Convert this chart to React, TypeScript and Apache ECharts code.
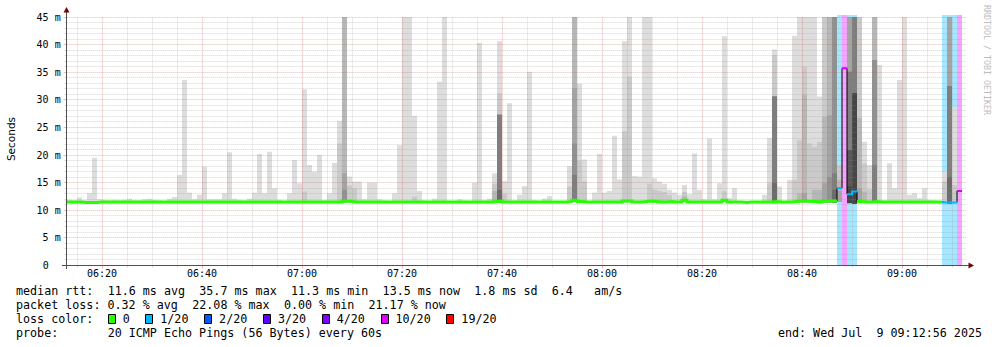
import React, { useEffect, useRef } from 'react';
import * as echarts from 'echarts';

// ---------------- data ----------------
const graphStart = '06:12:56';
const graphEnd = '09:12:56';
const firstBinStart = '06:13:00';
const binSeconds = 60;

// median rtt per 60 s step (ms)
const medianMs = [
  11.5, 11.5, 11.5, 11.4, 11.4, 11.4, 11.5, 11.5, 11.5, 11.5,
  11.5, 11.5, 11.5, 11.5, 11.5, 11.5, 11.5, 11.5, 11.5, 11.5,
  11.5, 11.5, 11.5, 11.5, 11.5, 11.5, 11.5, 11.5, 11.5, 11.5,
  11.5, 11.5, 11.5, 11.5, 11.5, 11.5, 11.5, 11.5, 11.5, 11.5,
  11.5, 11.5, 11.5, 11.5, 11.5, 11.5, 11.5, 11.5, 11.5, 11.5,
  11.5, 11.5, 11.5, 11.5, 11.5, 11.7, 11.6, 11.5, 11.5, 11.5,
  11.5, 11.5, 11.5, 11.5, 11.5, 11.5, 11.5, 11.5, 11.5, 11.5,
  11.5, 11.5, 11.5, 11.5, 11.5, 11.5, 11.5, 11.5, 11.5, 11.5,
  11.5, 11.5, 11.5, 11.5, 11.5, 11.6, 11.7, 11.5, 11.5, 11.5,
  11.5, 11.5, 11.5, 11.5, 11.5, 11.5, 11.5, 11.5, 11.5, 11.5,
  11.6, 11.8, 11.6, 11.5, 11.5, 11.5, 11.5, 11.5, 11.5, 11.5,
  11.5, 11.7, 11.7, 11.5, 11.5, 11.6, 11.7, 11.6, 11.5, 11.5,
  11.6, 11.5, 11.5, 11.8, 11.5, 11.5, 11.5, 11.5, 11.5, 11.5,
  11.5, 11.8, 11.5, 11.5, 11.5, 11.4, 11.5, 11.5, 11.5, 11.5,
  11.5, 11.6, 11.5, 11.5, 11.5, 11.6, 11.7, 11.7, 11.6, 11.6,
  11.5, 11.7, 11.7, 11.7, 14.0, 35.7, 12.9, 13.4, 11.6, 11.5,
  11.5, 11.6, 11.5, 11.5, 11.5, 11.5, 11.5, 11.5, 11.5, 11.5,
  11.5, 11.5, 11.5, 11.5, 11.5, 11.4, 11.4, 11.4, 13.5,
];

// slowest ping per step (top of the lightest smoke band, ms)
const maxMs: (number | null)[] = [
  11.9, 11.8, 12.3, 11.8, 13.1, 19.5, 12.0, 11.9, 11.8, 11.9,
  11.8, 11.9, 12.1, 11.8, 11.8, 12.0, 12.1, 11.9, 11.8, 11.7,
  12.1, 12.4, 16.4, 33.6, 13.2, 12.0, 12.8, 17.9, 12.0, 12.0,
  12.0, 13.1, 20.5, 12.1, 11.9, 11.8, 12.1, 13.2, 20.2, 13.1,
  20.6, 14.0, 11.9, 11.7, 13.1, 19.1, 14.9, 31.9, 18.2, 17.0,
  20.0, 11.8, 13.1, 18.6, 26.2, 45, 16.1, 15.2, 15.2, 12.0,
  15.0, 15.0, 12.0, 11.8, 11.7, 13.1, 21.8, 45, 45, 27.1,
  13.5, 11.8, 11.6, 12.1, 33.3, 45, 11.7, 11.6, 12.0, 11.8,
  11.7, 15.0, 40.3, 11.8, 12.1, 16.7, 40.6, 15.3, 29.4, 11.8,
  12.8, 14.4, 35.1, 11.8, 11.7, 12.1, 12.6, 11.6, 11.6, 11.6,
  18.0, 45, 32.9, 19.2, 11.7, 13.2, 20.2, 13.2, 13.5, 23.5,
  15.6, 40.6, 45, 16.2, 16.1, 45, 45, 15.8, 15.2, 14.8,
  13.7, 13.2, 12.8, 14.6, 12.9, 20.3, 13.7, 12.0, 23.0, 12.0,
  14.9, 41.5, 12.2, 14.0, 11.6, 11.5, 11.6, 11.6, 11.6, 12.8,
  23.1, 39.1, 14.3, 11.6, 15.5, 41.6, 45, 45, 45, 45,
  30.6, 45, 45, 45, 18.2, null, 45, 45, 45, 22.4,
  18.2, 45, 36.3, 11.8, 18.5, 14.0, 33.6, 45, 12.8, 13.1,
  12.2, 14.0, 11.9, 11.8, 11.6, 17.0, 45, 28.7, null,
];

// fastest ping per step (bottom of the smoke, ms)
const minMs = [
  11.3, 11.3, 11.3, 11.2, 11.2, 11.2, 11.3, 11.3, 11.3, 11.3,
  11.3, 11.3, 11.3, 11.3, 11.3, 11.3, 11.3, 11.3, 11.3, 11.3,
  11.3, 11.3, 11.3, 11.3, 11.3, 11.3, 11.3, 11.3, 11.3, 11.3,
  11.3, 11.3, 11.3, 11.3, 11.3, 11.3, 11.3, 11.3, 11.3, 11.3,
  11.3, 11.3, 11.3, 11.3, 11.3, 11.3, 11.3, 11.3, 11.3, 11.3,
  11.3, 11.3, 11.3, 11.3, 11.3, 11.4, 11.3, 11.3, 11.3, 11.3,
  11.3, 11.3, 11.3, 11.3, 11.3, 11.3, 11.3, 11.3, 11.3, 11.3,
  11.3, 11.3, 11.3, 11.3, 11.3, 11.3, 11.3, 11.3, 11.3, 11.3,
  11.3, 11.3, 11.3, 11.3, 11.3, 11.3, 11.4, 11.3, 11.3, 11.3,
  11.3, 11.3, 11.3, 11.3, 11.3, 11.3, 11.3, 11.3, 11.3, 11.3,
  11.3, 11.5, 11.3, 11.3, 11.3, 11.3, 11.3, 11.3, 11.3, 11.3,
  11.3, 11.4, 11.4, 11.3, 11.3, 11.3, 11.4, 11.3, 11.3, 11.3,
  11.3, 11.3, 11.3, 11.5, 11.3, 11.3, 11.3, 11.3, 11.3, 11.3,
  11.3, 11.5, 11.3, 11.3, 11.3, 11.2, 11.3, 11.3, 11.3, 11.3,
  11.3, 11.3, 11.3, 11.3, 11.3, 11.3, 11.4, 11.4, 11.3, 11.3,
  11.3, 11.4, 11.4, 11.4, 11.5, 35.7, 11.3, 11.2, 11.3, 11.3,
  11.3, 11.3, 11.3, 11.3, 11.3, 11.3, 11.3, 11.3, 11.3, 11.3,
  11.3, 11.3, 11.3, 11.3, 11.3, 11.2, 11.2, 11.2, 13.5,
];

// tops of the darker inner smoke bands (2nd slowest ping, 3rd slowest, ...), by step index
const innerBandTops: Record<number, number[]> = {
  47: [13.4],
  54: [22.1],
  55: [45, 45, 16.7, 13.7],
  56: [14.5],
  57: [14.0],
  69: [12.5],
  85: [14.8, 13.5],
  86: [31.2, 27.3, 27.3, 27.3, 27.3, 13.7],
  87: [13.0],
  100: [14.3],
  101: [45, 45, 32.1, 22.1, 16.4],
  102: [19.0],
  103: [15.2],
  111: [24.3],
  112: [34.2],
  116: [14.8],
  117: [13.7],
  118: [13.5],
  119: [13.3],
  120: [12.8],
  123: [13.3, 12.5],
  131: [13.5],
  140: [14.9],
  141: [38.1, 30.6, 30.6, 30.6, 30.6, 14.9],
  145: [15.5],
  146: [22.7, 13.1],
  147: [36.0, 30.9, 13.1],
  148: [22.1],
  149: [21.5, 13.7],
  150: [22.4, 13.7],
  151: [45, 27.0, 14.9],
  152: [45, 45, 27.2, 16.0],
  153: [45, 45, 45, 45, 16.7, 13.7],
  154: [18.2, 15.5, 13.5],
  156: [45, 45, 45, 35.1, 35.1, 20.9, 20.9, 14.3],
  157: [45, 45, 45, 45, 45, 31.2, 31.2, 31.2],
  158: [45, 26.7, 14.0],
  159: [18.5, 13.4],
  160: [13.8],
  161: [45, 45, 37.2, 37.2, 18.2],
  175: [15.2],
  176: [45, 45, 45, 32.5, 32.5, 16.0],
  177: [14.6],
};

// lost pings (of 20) per step index
const lostPings: Record<number, number> = {
  154: 1, 155: 10, 156: 1, 157: 1, 175: 1, 176: 1, 177: 1, 178: 10,
};

const timeTickLabels = ['06:20', '06:40', '07:00', '07:20', '07:40', '08:00', '08:20', '08:40', '09:00'];
const yMaxMs = 45;
const yStepMs = 5;

const lossLegendLabels = ['0', '1/20', '2/20', '3/20', '4/20', '10/20', '19/20'];
const lossLegendPings = [0, 1, 2, 3, 4, 10, 19];
const lossColors = ['#26ff00', '#00b8ff', '#0059ff', '#5e00ff', '#7e00ff', '#dd00ff', '#ff0000'];

const statsMedian = 'median rtt:  11.6 ms avg  35.7 ms max  11.3 ms min  13.5 ms now  1.8 ms sd  6.4   am/s';
const statsLoss = 'packet loss: 0.32 % avg  22.08 % max  0.00 % min  21.17 % now';
const lossTitle = 'loss color:';
const probeText = 'probe:       20 ICMP Echo Pings (56 Bytes) every 60s';
const endText = 'end: Wed Jul  9 09:12:56 2025';
const unitLabel = 'Seconds';
const watermark = 'RRDTOOL / TOBI OETIKER';

// ---------------- helpers ----------------
const toSec = (s: string) => {
  const [h, m, sec = '0'] = s.split(':');
  return Number(h) * 3600 + Number(m) * 60 + Number(sec);
};
const pad2 = (n: number) => String(n).padStart(2, '0');
const fmtHM = (sec: number) => `${pad2(Math.floor(sec / 3600))}:${pad2(Math.floor((sec % 3600) / 60))}`;

const startSec = toSec(graphStart);
const endSec = toSec(graphEnd);
const bin0 = toSec(firstBinStart);
const binX0 = (k: number) => bin0 + k * binSeconds;

const smokeGray = (level: number) => {
  const g = Math.floor((190 / 10) * (10 - level)) + 50;
  const h = g.toString(16).padStart(2, '0');
  return `#${h}${h}${h}`;
};
const lossIndex = (lost: number) => {
  for (let i = 0; i < lossLegendPings.length; i++) if (lost <= lossLegendPings[i]) return i;
  return lossLegendPings.length - 1;
};
const tint = (hex: string, a: number) => {
  const n = parseInt(hex.slice(1), 16);
  const c = [(n >> 16) & 255, (n >> 8) & 255, n & 255].map((v) => Math.round(255 - a * (255 - v)));
  return `rgb(${c[0]},${c[1]},${c[2]})`;
};
const snap = (v: number) => Math.floor(v) + 0.5;

const MONO = '"DejaVu Sans Mono"';
const legendFontSize = 11.7;
const monoAdv = 7.05;
const legendX = 16;

const monoLine = (str: string, y: number) => {
  const out: any[] = [];
  const re = /\S+(?: \S+)*/g;
  let m: RegExpExecArray | null;
  while ((m = re.exec(str))) {
    out.push({
      type: 'text',
      x: legendX + m.index * monoAdv,
      y,
      silent: true,
      style: { text: m[0], font: `${legendFontSize}px ${MONO}`, fill: '#000', textVerticalAlign: 'middle' },
    });
  }
  return out;
};

const stepPairs = (pred: (k: number) => boolean) => {
  const out: any[] = [];
  let open = false;
  for (let k = 0; k < medianMs.length; k++) {
    if (pred(k)) {
      out.push([binX0(k), medianMs[k]], [binX0(k) + binSeconds, medianMs[k]]);
      open = true;
    } else if (open) {
      out.push([binX0(k), '-']);
      open = false;
    }
  }
  return out;
};

function buildOption() {
  const binLoss = (k: number) => lossIndex(lostPings[k] ?? 0);

  const smokeData: any[] = [];
  const bgData: any[] = [];
  medianMs.forEach((_, k) => {
    if (maxMs[k] != null) smokeData.push([binX0(k), maxMs[k], k]);
    if ((lostPings[k] ?? 0) > 0) bgData.push([binX0(k), yMaxMs, k]);
  });

  // grid line positions (axis structure)
  const vGrid: any[] = [];
  for (let t = Math.ceil(startSec / 300) * 300; t <= endSec; t += 300) vGrid.push([t, t % 1200 === 0 ? 1 : 0]);
  const hGrid: any[] = [];
  for (let v = 1; v <= yMaxMs; v += 1) hGrid.push([startSec, v, v % yStepMs === 0 ? 1 : 0]);

  const minorGrid = 'rgba(143,143,143,0.36)';
  const majorGrid = 'rgba(222,72,72,0.4)';

  const usedLoss = Array.from(new Set(medianMs.map((_, k) => binLoss(k)))).sort((a, b) => a - b);

  const lineSeries = usedLoss.map((li) => ({
    type: 'line',
    silent: true,
    symbol: 'none',
    showSymbol: false,
    connectNulls: false,
    z: 6,
    data: stepPairs((k) => binLoss(k) === li),
    lineStyle: { color: lossColors[li], width: li === 0 ? 3 : 2, cap: 'butt', join: 'miter' },
    emphasis: { disabled: true },
  }));

  // legend graphics
  const graphics: any[] = [];
  graphics.push(...monoLine(statsMedian, 291));
  graphics.push(...monoLine(statsLoss, 305));
  graphics.push(...monoLine(lossTitle, 319));
  let bx = legendX + 13 * monoAdv;
  lossLegendLabels.forEach((lab, i) => {
    graphics.push({
      type: 'rect',
      silent: true,
      shape: { x: Math.round(bx) + 0.5, y: 314.5, width: 7, height: 9 },
      style: { fill: lossColors[i], stroke: '#000', lineWidth: 1 },
    });
    graphics.push({
      type: 'text',
      x: bx + 15,
      y: 319,
      silent: true,
      style: { text: lab, font: `${legendFontSize}px ${MONO}`, fill: '#000', textVerticalAlign: 'middle' },
    });
    bx += 30.6 + lab.length * monoAdv;
  });
  graphics.push(...monoLine(probeText, 333));
  graphics.push({
    type: 'text',
    x: 982,
    y: 333,
    silent: true,
    style: { text: endText, font: `${legendFontSize}px ${MONO}`, fill: '#000', textAlign: 'right', textVerticalAlign: 'middle' },
  });
  // unit label
  graphics.push({
    type: 'text',
    x: 10.5,
    y: 139,
    rotation: Math.PI / 2,
    silent: true,
    style: { text: unitLabel, font: '10.5px "DejaVu Sans"', fill: '#000', textAlign: 'center', textVerticalAlign: 'middle' },
  });
  // watermark
  graphics.push({
    type: 'text',
    x: 987,
    y: 60,
    rotation: -Math.PI / 2,
    silent: true,
    style: { text: watermark, font: `8.3px ${MONO}`, fill: '#bdbdbd', textAlign: 'center', textVerticalAlign: 'middle' },
  });
  // axes and arrows
  const axisColor = '#505050';
  graphics.push({ type: 'line', silent: true, z: 10, shape: { x1: 62, y1: 265.5, x2: 969, y2: 265.5 }, style: { stroke: axisColor, lineWidth: 1 } });
  graphics.push({ type: 'line', silent: true, z: 10, shape: { x1: 66.5, y1: 269, x2: 66.5, y2: 12 }, style: { stroke: axisColor, lineWidth: 1 } });
  graphics.push({ type: 'polygon', silent: true, z: 10, shape: { points: [[63.5, 12.5], [69.5, 12.5], [66.5, 7]] }, style: { fill: '#7f0000' } });
  graphics.push({ type: 'polygon', silent: true, z: 10, shape: { points: [[968.5, 262.5], [968.5, 268.5], [974, 265.5]] }, style: { fill: '#7f0000' } });

  return {
    animation: false,
    backgroundColor: '#ffffff',
    grid: { left: 66.67, top: 17, width: 900, height: 248.5, containLabel: false, outerBoundsMode: 'none' },
    xAxis: {
      type: 'value',
      min: startSec,
      max: endSec,
      axisLine: { show: false },
      axisTick: { show: false },
      splitLine: { show: false },
      axisLabel: {
        customValues: timeTickLabels.map((s) => toSec(s)),
        formatter: (v: number) => fmtHM(v),
        fontFamily: MONO,
        fontSize: 10,
        color: '#000',
        margin: 3,
      },
    },
    yAxis: {
      type: 'value',
      min: 0,
      max: yMaxMs,
      interval: yStepMs,
      axisLine: { show: false },
      axisTick: { show: false },
      splitLine: { show: false },
      axisLabel: {
        formatter: (v: number) => (v === 0 ? '{z|0}' : `${v} m`),
        fontFamily: MONO,
        fontSize: 10,
        color: '#000',
        margin: 6,
        rich: { z: { fontFamily: MONO, fontSize: 10, color: '#000', padding: [0, 12, 0, 0] } },
      },
    },
    series: [
      {
        type: 'custom',
        name: 'lossBackground',
        silent: true,
        z: 1,
        data: bgData,
        renderItem: (_p: any, api: any) => {
          const k = api.value(2) as number;
          const x0 = api.value(0) as number;
          const a = api.coord([x0, yMaxMs]);
          const b = api.coord([x0 + binSeconds, 0]);
          return {
            type: 'rect',
            shape: { x: a[0], y: a[1] - 2, width: b[0] - a[0], height: b[1] - a[1] + 2 },
            style: { fill: tint(lossColors[binLoss(k)], 0.35) },
          };
        },
      },
      {
        type: 'custom',
        name: 'smoke',
        silent: true,
        z: 2,
        data: smokeData,
        renderItem: (_p: any, api: any) => {
          const k = api.value(2) as number;
          const x0 = api.value(0) as number;
          const tops = [maxMs[k] as number, ...(innerBandTops[k] || [])];
          const lo = minMs[k];
          return {
            type: 'group',
            children: tops.map((top, j) => {
              const a = api.coord([x0, top]);
              const b = api.coord([x0 + binSeconds, lo]);
              return {
                type: 'rect',
                shape: { x: a[0], y: a[1], width: b[0] - a[0], height: b[1] - a[1] },
                style: { fill: smokeGray(j + 1) },
              };
            }),
          };
        },
      },
      {
        type: 'custom',
        name: 'vgrid',
        silent: true,
        z: 3,
        data: vGrid,
        renderItem: (_p: any, api: any) => {
          const t = api.value(0) as number;
          const major = api.value(1) === 1;
          const bot = api.coord([t, 0]);
          const top = api.coord([t, yMaxMs]);
          const x = snap(bot[0]);
          const col = major ? majorGrid : minorGrid;
          return {
            type: 'group',
            children: [
              { type: 'line', shape: { x1: x, y1: bot[1], x2: x, y2: top[1] }, style: { stroke: col, lineWidth: 1, lineDash: [1, 1] } },
              { type: 'line', shape: { x1: x, y1: bot[1], x2: x, y2: bot[1] + (major ? 3 : 2) }, style: { stroke: col, lineWidth: 1 } },
            ],
          };
        },
      },
      {
        type: 'custom',
        name: 'hgrid',
        silent: true,
        z: 3,
        data: hGrid,
        renderItem: (_p: any, api: any) => {
          const v = api.value(1) as number;
          const major = api.value(2) === 1;
          const l = api.coord([startSec, v]);
          const r = api.coord([endSec, v]);
          const y = snap(l[1]);
          const col = major ? majorGrid : minorGrid;
          return {
            type: 'group',
            children: [
              { type: 'line', shape: { x1: l[0], y1: y, x2: r[0], y2: y }, style: { stroke: col, lineWidth: 1, lineDash: [1, 1] } },
              { type: 'line', shape: { x1: l[0] - (major ? 3 : 2), y1: y, x2: l[0], y2: y }, style: { stroke: col, lineWidth: 1 } },
            ],
          };
        },
      },
      {
        type: 'line',
        name: 'medianOutline',
        silent: true,
        symbol: 'none',
        showSymbol: false,
        z: 5,
        data: stepPairs(() => true),
        lineStyle: { color: '#000', width: 1, join: 'miter' },
        emphasis: { disabled: true },
      },
      ...lineSeries,
    ],
    graphic: graphics,
  };
}

export default function App() {
  const ref = useRef<HTMLDivElement>(null);
  useEffect(() => {
    if (!ref.current) return;
    const chart = echarts.init(ref.current, undefined, { renderer: 'svg' });
    chart.setOption(buildOption() as any);
    return () => chart.dispose();
  }, []);
  return <div ref={ref} style={{ position: 'absolute', left: 0, top: 0, width: 997, height: 347 }} />;
}
